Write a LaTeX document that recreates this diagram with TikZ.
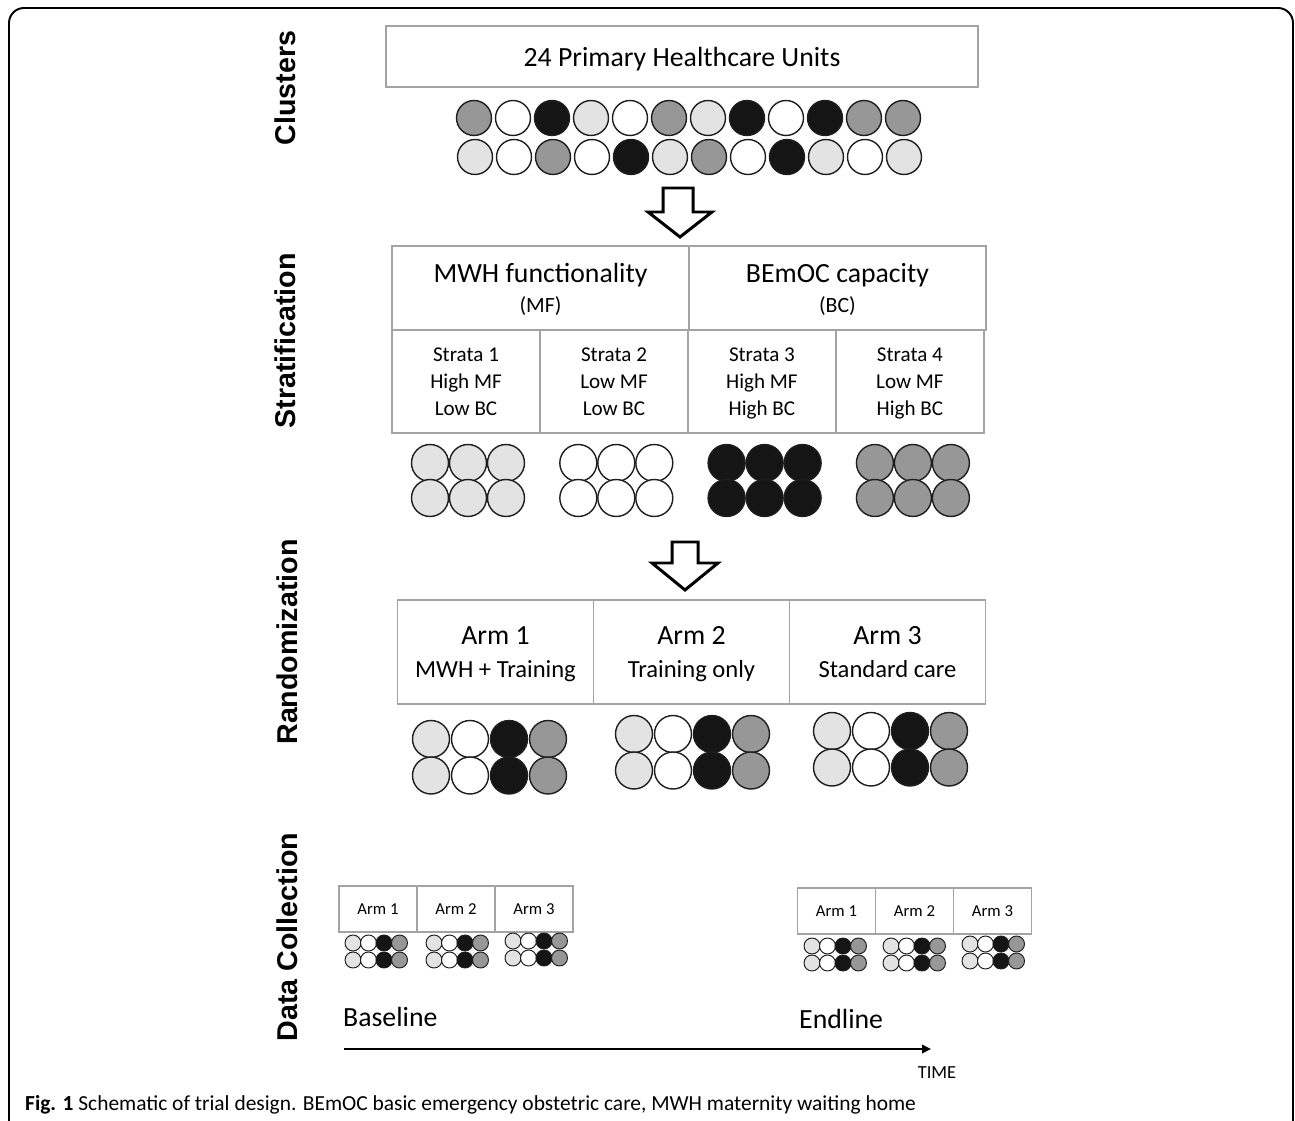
\documentclass[tikz,border=0pt]{standalone}
\usepackage{fontspec}
\setmainfont{Carlito}
\newfontfamily\sidefont{Liberation Sans}
\usetikzlibrary{arrows.meta,calc,positioning}
\definecolor{cellgray}{HTML}{A3A3A3}
\definecolor{unitlight}{HTML}{E3E3E3}
\definecolor{unitgray}{HTML}{979797}
\definecolor{unitblack}{HTML}{151515}
\definecolor{unitline}{HTML}{1E1E1E}
\tikzset{
  cell/.style={draw=cellgray,line width=0.85pt,outer sep=0pt,inner sep=2pt,align=center,text depth=0pt},
  topcell/.style={cell,minimum width=11.84cm,minimum height=1.22cm,font=\fontsize{15.8}{19}\selectfont},
  headcell/.style={cell,minimum width=5.94cm,minimum height=1.68cm,font=\fontsize{15.8}{17}\selectfont},
  stratcell/.style={cell,minimum width=2.96cm,minimum height=2.06cm,font=\fontsize{12}{15.4}\selectfont},
  armcell/.style={cell,minimum width=3.92cm,minimum height=2.08cm,font=\fontsize{15.8}{18.8}\selectfont},
  smallcell/.style={cell,minimum width=1.56cm,minimum height=0.92cm,font=\fontsize{9.5}{11}\selectfont},
  unit/.style={circle,draw=unitline,line width=0.8pt,inner sep=0pt,minimum size=0.70cm},
  midunit/.style={unit,minimum size=0.74cm},
  tinyunit/.style={circle,draw=unitline,line width=0.55pt,inner sep=0pt,minimum size=0.32cm},
  sidelabel/.style={rotate=90,font=\sidefont\bfseries\fontsize{16.3}{19}\selectfont},
  hollow/.style={draw=black,fill=white,line width=1.7pt,line join=miter},
  timeline/.style={-{Triangle[length=1.8mm,width=1.7mm]},line width=1.1pt},
  phase/.style={anchor=west,font=\fontsize{15.8}{19}\selectfont},
  frame/.style={draw=black,line width=1.1pt,rounded corners=0.3cm}
}

\begin{document}
\begin{tikzpicture}[x=0.02cm,y=-0.02cm]
  \useasboundingbox (0,0) rectangle (1295,1121);
  \draw[frame] (9,1121) -- (9,8) -- (1293,8) -- (1293,1121);

  % section labels
  \node[sidelabel] (lclusters) at (285,88) {Clusters};
  \node[sidelabel] (lstrat) at (285,341) {Stratification};
  \node[sidelabel] (lrand) at (287,642) {Randomization};
  \node[sidelabel] (ldata) at (287,937) {Data Collection};

  % clusters
  \node[topcell] (phu) at (682,56.5) {24 Primary Healthcare Units};
  \foreach \col [count=\i] in {unitgray,white,unitblack,unitlight,white,unitgray,unitlight,unitblack,white,unitblack,unitgray,unitgray}
    \node[unit,fill=\col] (ca\i) at ({474+39*(\i-1)},118) {};
  \foreach \col [count=\i] in {unitlight,white,unitgray,white,unitblack,unitlight,unitgray,white,unitblack,unitlight,white,unitlight}
    \node[unit,fill=\col] (cb\i) at ({475+39*(\i-1)},157) {};

  \draw[hollow] (663,188) -- (663,212) -- (648,212) -- (680,237) -- (712,212) -- (693,212) -- (693,188) -- cycle;

  % stratification
  \node[headcell] (mf) at (540.5,288) {MWH functionality\\{\fontsize{12.4}{17}\selectfont (MF)}};
  \node[headcell,right=0pt of mf] (bc) {BEmOC capacity\\{\fontsize{12.4}{17}\selectfont (BC)}};
  \node[stratcell,anchor=north west] (s1) at (mf.south west) {Strata 1\\High MF\\Low BC};
  \node[stratcell,right=0pt of s1] (s2) {Strata 2\\Low MF\\Low BC};
  \node[stratcell,right=0pt of s2] (s3) {Strata 3\\High MF\\High BC};
  \node[stratcell,right=0pt of s3] (s4) {Strata 4\\Low MF\\High BC};
  \foreach \col [count=\g] in {unitlight,white,unitblack,unitgray}
    \foreach \i in {1,2,3}
      \foreach \r in {0,1}
        \node[midunit,fill=\col] (st\g-\i-\r) at ({430+148.3*(\g-1)+38*(\i-1)},{463+35*\r}) {};

  \draw[hollow] (672,542) -- (672,563) -- (652,563) -- (685,590) -- (718,563) -- (698,563) -- (698,542) -- cycle;

  % randomization
  \node[armcell] (arm1) at (495.5,652) {Arm 1\\{\fontsize{14}{18.8}\selectfont MWH + Training}};
  \node[armcell,right=0pt of arm1] (arm2) {Arm 2\\{\fontsize{14}{18.8}\selectfont Training only}};
  \node[armcell,right=0pt of arm2] (arm3) {Arm 3\\{\fontsize{14}{18.8}\selectfont Standard care}};
  \foreach \gx/\gy [count=\g] in {431/739,634/734,832/731}
    \foreach \col [count=\i] in {unitlight,white,unitblack,unitgray}
      \foreach \r in {0,1}
        \node[midunit,fill=\col] (ar\g-\i-\r) at ({\gx+39*(\i-1)},{\gy+36.5*\r}) {};

  % data collection
  \node[smallcell] (base1) at (378,909) {Arm 1};
  \node[smallcell,right=0pt of base1] (base2) {Arm 2};
  \node[smallcell,right=0pt of base2] (base3) {Arm 3};
  \node[smallcell] (end1) at (836.5,911) {Arm 1};
  \node[smallcell,right=0pt of end1] (end2) {Arm 2};
  \node[smallcell,right=0pt of end2] (end3) {Arm 3};
  \foreach \gx/\gy [count=\g] in {353/943,434/943,513/941,812/946,891/946,970/944}
    \foreach \col [count=\i] in {unitlight,white,unitblack,unitgray}
      \foreach \r in {0,1}
        \node[tinyunit,fill=\col] (dc\g-\i-\r) at ({\gx+15.5*(\i-1)},{\gy+17*\r}) {};

  \node[phase] (baseline) at (337,1017) {Baseline};
  \node[phase] (endline) at (793,1019) {Endline};
  \coordinate (tstart) at (344,1049);
  \coordinate (tend) at (931,1049);
  \draw[timeline] (tstart) -- (tend);
  \node[font=\fontsize{10.5}{12}\selectfont] (time) at (937,1073) {TIME};

  \node[anchor=west,font=\fontsize{12.2}{14}\selectfont] (caption) at (19,1105)
    {\textbf{Fig. 1} Schematic of trial design. BEmOC basic emergency obstetric care, MWH maternity waiting home};
\end{tikzpicture}
\end{document}
